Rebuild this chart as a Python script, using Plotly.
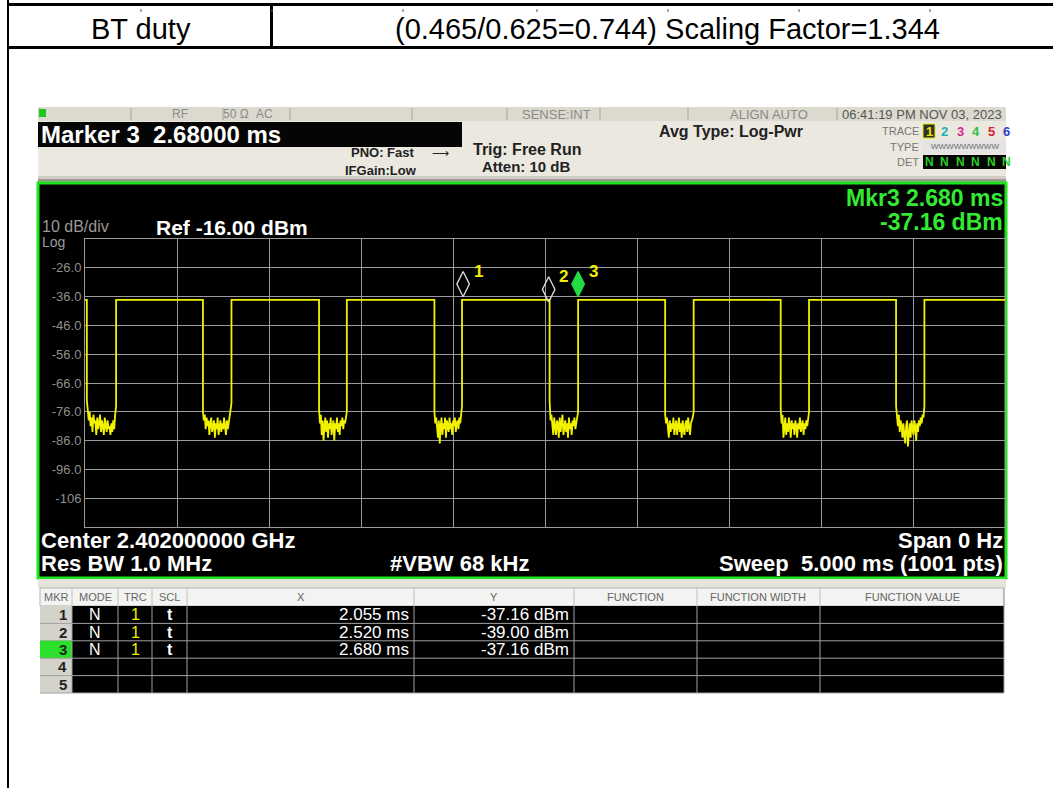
import plotly.graph_objects as go

W, H = 1053, 788
FONT = "Liberation Sans, Arial, sans-serif"

# ---------------- data ----------------
sweep_start_ms = 0.0
sweep_stop_ms = 5.0
ref_level_dbm = -16.0
bottom_level_dbm = -116.0
x_grid_dtick_ms = 0.5
y_tick_vals = [-16, -26, -36, -46, -56, -66, -76, -86, -96, -106, -116]
y_tick_text = ["", "-26.0", "-36.0", "-46.0", "-56.0", "-66.0", "-76.0", "-86.0", "-96.0", "-106", ""]

burst_level_dbm = -37.16
gap_fall_ms = [0.010, 0.641, 1.272, 1.899, 2.525, 3.153, 3.781, 4.408]
gap_rise_ms = [0.169, 0.796, 1.423, 2.049, 2.680, 3.308, 3.935, 4.562]

floor_gap1 = [-72, -77, -79, -76, -81, -78, -83, -77, -80, -79, -84, -78, -82, -80, -77, -83,
              -79, -81, -84, -78, -80, -83, -79, -82, -81, -84, -80, -83, -79, -82, -77, -74]
floor_gap2 = [-76, -79, -77, -82, -78, -81, -79, -84, -80, -78, -83, -81, -79, -85, -80, -82,
              -78, -84, -81, -79, -83, -80, -82, -78, -81, -84, -79, -82, -80, -78, -76, -73]
floor_gap3 = [-75, -80, -77, -84, -79, -86, -81, -78, -83, -79, -85, -80, -82, -78, -84, -81,
              -79, -86, -80, -82, -78, -83, -80, -84, -79, -81, -78, -82, -79, -80, -77, -76]
floor_gap4 = [-76, -80, -78, -83, -85, -79, -87, -81, -78, -84, -80, -82, -78, -85, -79, -81,
              -83, -78, -82, -80, -84, -79, -81, -78, -83, -80, -79, -82, -78, -80, -77, -74]
floor_gap5 = [-72, -79, -77, -82, -84, -78, -81, -84, -79, -80, -85, -78, -83, -80, -77, -84,
              -81, -79, -83, -80, -85, -78, -82, -80, -84, -79, -81, -78, -82, -80, -78, -76]
floor_gap6 = [-77, -80, -78, -83, -85, -79, -83, -80, -82, -78, -84, -81, -79, -84, -80, -78,
              -83, -80, -85, -79, -82, -84, -80, -79, -83, -78, -81, -84, -80, -79, -78, -76]
floor_gap7 = [-75, -80, -77, -85, -81, -78, -84, -80, -83, -78, -81, -85, -79, -82, -80, -84,
              -79, -81, -85, -80, -82, -78, -83, -81, -79, -84, -80, -82, -79, -81, -78, -76]
floor_gap8 = [-74, -78, -81, -77, -83, -79, -81, -85, -80, -84, -87, -81, -79, -88, -82, -80,
              -85, -79, -82, -84, -79, -81, -86, -80, -83, -79, -81, -78, -80, -77, -78, -74]
gap_floors = [floor_gap1, floor_gap2, floor_gap3, floor_gap4,
              floor_gap5, floor_gap6, floor_gap7, floor_gap8]

marker_x_ms = [2.055, 2.520, 2.680]
marker_y_dbm = [-37.16, -39.00, -37.16]
marker_names = ["1", "2", "3"]

mkr_numbers = ["1", "2", "3", "4", "5"]
mkr_mode = ["N", "N", "N", "", ""]
mkr_trace = ["1", "1", "1", "", ""]
mkr_scale = ["t", "t", "t", "", ""]
mkr_x_text = ["2.055 ms", "2.520 ms", "2.680 ms", "", ""]
mkr_y_text = ["-37.16 dBm", "-39.00 dBm", "-37.16 dBm", "", ""]
mkr_headers = ["MKR", "MODE", "TRC", "SCL", "X", "Y", "FUNCTION", "FUNCTION WIDTH", "FUNCTION VALUE"]

trace_digits = ["1", "2", "3", "4", "5", "6"]

# ---------------- helpers (pixel layout) ----------------
shapes, annotations = [], []


def rect(x0, y0, x1, y1, fill, line_color=None, lw=0, layer="below"):
    shapes.append(dict(type="rect", xref="paper", yref="paper",
                       x0=x0 / W, x1=x1 / W, y0=1 - y1 / H, y1=1 - y0 / H,
                       fillcolor=fill, layer=layer,
                       line=dict(width=lw, color=line_color or fill)))


def line(x0, y0, x1, y1, color, width=1, layer="below"):
    shapes.append(dict(type="line", xref="paper", yref="paper",
                       x0=x0 / W, x1=x1 / W, y0=1 - y0 / H, y1=1 - y1 / H,
                       layer=layer, line=dict(width=width, color=color)))


def txt(x, y, s, size, color="#000000", anchor="left", bold=False, family=FONT):
    annotations.append(dict(xref="paper", yref="paper", x=x / W, y=1 - y / H,
                            text=("<b>%s</b>" % s) if bold else s, showarrow=False,
                            xanchor=anchor, yanchor="middle", borderpad=0,
                            font=dict(size=size, color=color, family=family)))


# ---------------- document table ----------------
line(8, 0, 8, H, "#000000", 2)
rect(8, 3, W, 6, "#000000")
rect(8, 46, W, 49, "#000000")
rect(270, 6, 273, 47, "#000000")
for mx in [141, 272, 403, 537, 668, 799, 930]:
    line(mx, 9, mx, 12, "#555555", 1)
txt(141, 29, "BT duty", 29, "#000000", "center")
txt(667, 29, "(0.465/0.625=0.744) Scaling Factor=1.344", 29, "#000000", "center")

# ---------------- instrument screen: top bars ----------------
rect(38, 107, 1006, 121, "#dcd9cf")
for sx in [131, 223, 290, 412, 507, 600, 688, 837]:
    line(sx, 108, sx, 120, "#a8a59c", 1)
rect(39, 109, 46, 117, "#1ec81e")
txt(180, 114, "RF", 12, "#8a8a8a", "center")
txt(236, 114, "50 Ω", 12, "#8a8a8a", "center")
txt(264, 114, "AC", 12, "#8a8a8a", "center")
txt(556, 114, "SENSE:INT", 13, "#8a8a8a", "center")
txt(769, 114, "ALIGN AUTO", 13, "#8a8a8a", "center")
txt(922, 114, "06:41:19 PM NOV 03, 2023", 13, "#555555", "center")

rect(38, 121, 1006, 176, "#ebe8df")
rect(38, 176, 1006, 179, "#cfccc2")
rect(38, 179, 1006, 182, "#9c9991")
rect(38, 122, 462, 147, "#050505")
txt(40, 134, "Marker 3  2.68000 ms", 24, "#ffffff", "left", True)
txt(416, 153, "PNO: Fast", 13, "#222222", "right", True)
txt(440, 153, "⟶", 12, "#222222", "center")
txt(381, 170, "IFGain:Low", 13, "#222222", "center", True)
txt(527, 149, "Trig: Free Run", 16, "#222222", "center", True)
txt(572, 167, "Atten: 10 dB", 15, "#222222", "right", True)
txt(731, 132, "Avg Type: Log-Pwr", 16, "#222222", "center", True)

txt(920, 131, "TRACE", 11, "#777777", "right")
txt(920, 147, "TYPE", 11, "#777777", "right")
txt(920, 162, "DET", 11, "#777777", "right")
digit_colors = ["#e8e800", "#20b0b0", "#d02890", "#30c040", "#e02030", "#3040d0"]
rect(923, 124, 935, 138, "#303030", "#e8e800", 1)
for i, (d, c) in enumerate(zip(trace_digits, digit_colors)):
    txt(929 + i * 15.5, 131, d, 13, c, "center", True)
rect(923, 141, 1006, 153, "#e4e4e4")
txt(965, 147, "WWWWWWWWW", 8, "#6a6a6a", "center")
rect(923, 155, 1006, 169, "#050505")
for i in range(6):
    txt(929 + i * 15.5, 162, "N", 12, "#2ad02a", "center", True)

# ---------------- instrument screen: measurement frame ----------------
rect(38, 183, 1006, 578, "#000000", "#1ee61e", 3)
txt(1004, 198, "Mkr3 2.680 ms", 23, "#33ea33", "right", True)
txt(1004, 222, "-37.16 dBm", 23, "#33ea33", "right", True)
txt(41, 226, "10 dB/div", 16, "#9a9a9a", "left")
txt(155, 228, "Ref -16.00 dBm", 21, "#ffffff", "left", True)
txt(41, 242, "Log", 14, "#9a9a9a", "left")
txt(40, 540, "Center 2.402000000 GHz", 22, "#ffffff", "left", True)
txt(40, 563, "Res BW 1.0 MHz", 22, "#ffffff", "left", True)
txt(459, 563, "#VBW 68 kHz", 22, "#ffffff", "center", True)
txt(1004, 540, "Span 0 Hz", 22, "#ffffff", "right", True)
txt(1004, 563, "Sweep  5.000 ms (1001 pts)", 22, "#ffffff", "right", True)

# ---------------- marker table ----------------
rect(38, 579, 1006, 588, "#e6e3da")
tbl_left, tbl_right = 40, 1004
col_edges = [40, 72, 118, 152, 187, 414, 574, 697, 820, 1004]
head_top, head_bot = 588, 606
row_h = 17.4
rect(tbl_left, head_top, tbl_right, head_bot, "#f3f3f1", "#b5b5b5", 1)
for i, h in enumerate(mkr_headers):
    cx = (col_edges[i] + col_edges[i + 1]) / 2
    txt(cx, 597, h, 11, "#666666", "center")
for ce in col_edges[1:-1]:
    line(ce, head_top, ce, head_bot, "#c0c0c0", 1)
body_bot = head_bot + row_h * len(mkr_numbers)
rect(tbl_left, head_bot, tbl_right, body_bot, "#000000")
rect(tbl_left, head_bot, col_edges[1], body_bot, "#d3d3cb")
for r, num in enumerate(mkr_numbers):
    y0 = head_bot + r * row_h
    yc = y0 + row_h / 2
    if num == "3":
        rect(tbl_left, y0, col_edges[1], y0 + row_h, "#2be02b")
    line(tbl_left, y0 + row_h, tbl_right, y0 + row_h, "#a0a0a0", 1)
    txt(col_edges[1] - 4, yc, num, 15, "#222222", "right", True)
    txt((col_edges[1] + col_edges[2]) / 2, yc, mkr_mode[r], 16, "#ffffff", "center")
    txt((col_edges[2] + col_edges[3]) / 2, yc, mkr_trace[r], 16, "#f0f000", "center")
    txt((col_edges[3] + col_edges[4]) / 2, yc, mkr_scale[r], 16, "#ffffff", "center", True)
    txt(col_edges[5] - 4, yc, mkr_x_text[r], 17, "#ffffff", "right")
    txt(col_edges[6] - 4, yc, mkr_y_text[r], 17, "#ffffff", "right")
for ce in col_edges[1:-1]:
    line(ce, head_bot, ce, body_bot, "#a0a0a0", 1)
line(tbl_right, head_top, tbl_right, body_bot, "#a0a0a0", 1)

# ---------------- trace ----------------
xs, ys = [sweep_start_ms], [burst_level_dbm]
for fall, rise, floor in zip(gap_fall_ms, gap_rise_ms, gap_floors):
    xs.append(fall)
    ys.append(burst_level_dbm)
    n = len(floor)
    for i, v in enumerate(floor):
        xs.append(fall + (rise - fall) * i / (n - 1))
        ys.append(v)
    xs.append(rise)
    ys.append(burst_level_dbm)
xs.append(sweep_stop_ms)
ys.append(burst_level_dbm)

fig = go.Figure()
fig.add_trace(go.Scatter(x=xs, y=ys, mode="lines", line=dict(color="#f2f200", width=1.8),
                         hoverinfo="skip", showlegend=False))

lift_db = 5.5
m_colors_fill = ["rgba(0,0,0,0)", "rgba(0,0,0,0)", "#22dd44"]
m_colors_line = ["#e0e0e0", "#e0e0e0", "#22dd44"]
fig.add_trace(go.Scatter(
    x=marker_x_ms, y=[v + lift_db for v in marker_y_dbm], mode="markers",
    marker=dict(symbol="diamond-tall", size=18, color=m_colors_fill,
                line=dict(color=m_colors_line, width=1.3)),
    hoverinfo="skip", showlegend=False))
for mx, my, name in zip(marker_x_ms, marker_y_dbm, marker_names):
    annotations.append(dict(xref="x", yref="y", x=mx, y=my + lift_db, text="<b>%s</b>" % name,
                            showarrow=False, xshift=15, yshift=13,
                            font=dict(size=17, color="#f0f000", family=FONT)))

grid_col = "#9a9a9a"
fig.update_xaxes(range=[sweep_start_ms, sweep_stop_ms], domain=[85 / W, 1005 / W],
                 tick0=0, dtick=x_grid_dtick_ms, showgrid=True, gridcolor=grid_col, gridwidth=1,
                 showline=True, mirror=True, linecolor=grid_col, linewidth=1,
                 showticklabels=False, ticks="", zeroline=False, fixedrange=True)
fig.update_yaxes(range=[bottom_level_dbm, ref_level_dbm], domain=[1 - 527 / H, 1 - 239 / H],
                 tickmode="array", tickvals=y_tick_vals, ticktext=y_tick_text,
                 tickfont=dict(size=13, color="#8f8f8f", family=FONT),
                 showgrid=True, gridcolor=grid_col, gridwidth=1,
                 showline=True, mirror=True, linecolor=grid_col, linewidth=1,
                 ticks="", zeroline=False, fixedrange=True)

fig.update_layout(width=W, height=H, autosize=False,
                  margin=dict(l=0, r=0, t=0, b=0, pad=0),
                  paper_bgcolor="#ffffff", plot_bgcolor="#000000",
                  shapes=shapes, annotations=annotations, showlegend=False)

fig.write_html("out.html", config={"displayModeBar": False},
               post_script="document.body.style.margin='0px';document.body.style.overflow='hidden';")
